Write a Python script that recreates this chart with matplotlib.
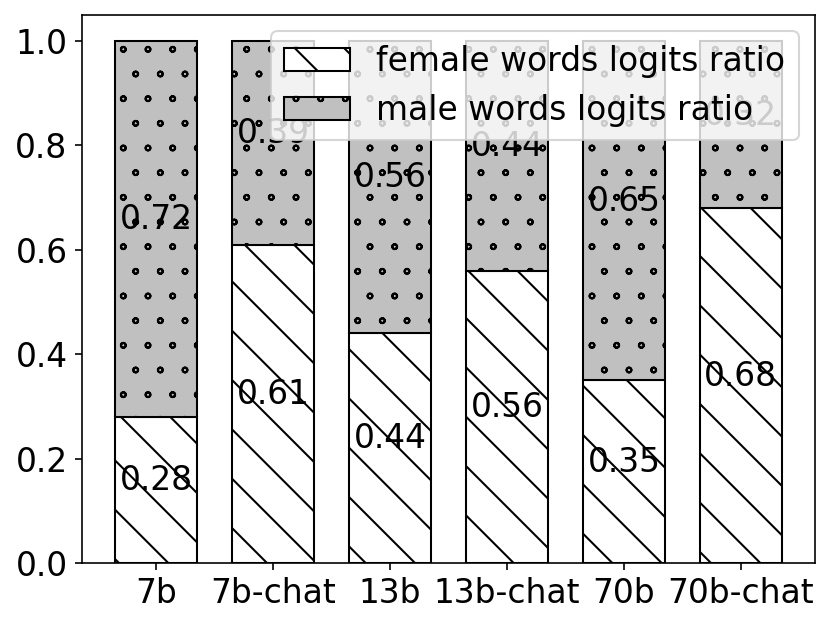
import matplotlib
matplotlib.use('Agg')
import matplotlib.hatch
import matplotlib.pyplot as plt
import numpy as np

models = ['7b', '7b-chat', '13b', '13b-chat', '70b', '70b-chat']
female_ratio = [0.28, 0.61, 0.44, 0.56, 0.35, 0.68]
male_ratio = [0.72, 0.39, 0.56, 0.44, 0.65, 0.32]

plt.rcParams['font.size'] = 16
# the reference has much smaller rings for the 'o' hatch
matplotlib.hatch.SmallCircles.size = 0.1

dpi = 148
fig = plt.figure(figsize=(830 / dpi, 623 / dpi), dpi=dpi)
ax = fig.add_axes([0.0988, 0.0963, 0.8832, 0.8797])

x = np.arange(len(models))
width = 0.7

# female part at the bottom, male stacked on top
ax.bar(x, female_ratio, width, color='white', edgecolor='black',
       hatch='\\', label='female words logits ratio')
ax.bar(x, male_ratio, width, bottom=female_ratio, color='silver',
       edgecolor='black', hatch='o', label='male words logits ratio')

# value labels in the middle of each segment
for i in range(len(models)):
    f = female_ratio[i]
    m = male_ratio[i]
    ax.text(x[i], f / 2, f'{f:.2f}', ha='center')
    ax.text(x[i], f + m / 2, f'{m:.2f}', ha='center')

ax.set_xticks(x)
ax.set_xticklabels(models)
ax.legend(loc='upper right')

fig.savefig('out.png', dpi=dpi)
